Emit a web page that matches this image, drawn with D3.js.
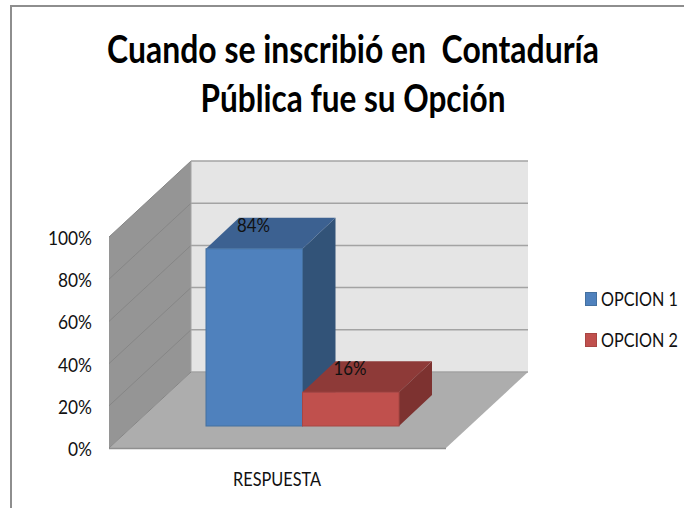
<!DOCTYPE html>
<html>
<head>
<meta charset="utf-8">
<script src="https://cdn.jsdelivr.net/npm/d3@7"></script>
<style>
html, body { margin: 0; padding: 0; background: #fff; }
text { font-family: Lato, "Open Sans", sans-serif; fill: #111; white-space: pre; }
</style>
</head>
<body>
<div id="vis"></div>
<script>
var titleLines = ["Cuando se inscribió en  Contaduría", "Pública fue su Opción"],
    category = "RESPUESTA",
    seriesNames = ["OPCION 1", "OPCION 2"],
    seriesValues = [84, 16],
    seriesLabels = ["84%", "16%"],
    yTicks = [0, 20, 40, 60, 80, 100];

var w = 684,
    h = 508,
    depthX = 82,      // shift from the front of the box to the back wall
    depthY = -76,
    barDepthX = 33,   // depth of the bars themselves
    barDepthY = -31,
    barInsetY = -22;

var svg = d3.select("#vis").append("svg")
    .attr("width", w)
    .attr("height", h)
    .style("display", "block");

// text in the picture is narrower than Lato, so squeeze each one to its width
function putText(str, px, py, size, width, anchor, weight) {
    var t = svg.append("text")
       .text(str)
       .attr("text-anchor", anchor)
       .attr("font-size", size)
       .attr("font-weight", weight || 400);
    var k = width / t.node().getComputedTextLength();
    t.attr("transform", "translate(" + px + "," + py + ") scale(" + k + ",1)");
    return t;
}

// border of the picture, cut off at the right and bottom
svg.append("path")
   .attr("d", "M11,508V6H684")
   .attr("fill", "none")
   .attr("stroke", "#8e8e8e")
   .attr("stroke-width", 2);

titleLines.forEach(function(t, i) {
    putText(t, 353, 63 + i * 49, 39, i == 0 ? 492 : 305, "middle", 700)
       .style("fill", "#000");
});

var y = d3.scaleLinear().domain([0, 100]).range([448, 237]),
    xBox = d3.scaleBand().domain([category]).range([109, 446]),
    x = d3.scaleBand().domain(seriesNames).range([206, 399]);

var poly = function(pts) { return d3.line()(pts) + "Z"; };

var x0 = xBox(category),
    x1 = x0 + xBox.bandwidth();

// back wall
svg.append("path")
   .attr("d", poly([[x0 + depthX, y(0) + depthY], [x1 + depthX, y(0) + depthY], [x1 + depthX, y(100) + depthY], [x0 + depthX, y(100) + depthY]]))
   .attr("fill", "#e5e5e5");

// side wall
svg.append("path")
   .attr("d", poly([[x0, y(0)], [x0 + depthX, y(0) + depthY], [x0 + depthX, y(100) + depthY], [x0, y(100)]]))
   .attr("fill", "#959595");

// floor
svg.append("path")
   .attr("d", poly([[x0, y(0)], [x1, y(0)], [x1 + depthX, y(0) + depthY], [x0 + depthX, y(0) + depthY]]))
   .attr("fill", "#adadad");

svg.append("line")
   .attr("x1", x0).attr("x2", x1)
   .attr("y1", y(0) + 0.5).attr("y2", y(0) + 0.5)
   .attr("stroke", "#8f8f8f")
   .attr("stroke-width", 1.5);

// gridlines on the back wall
svg.selectAll(".gridBack")
   .data(yTicks)
   .enter()
   .append("line")
   .attr("class", "gridBack")
   .attr("x1", x0 + depthX)
   .attr("y1", function(d) { return y(d) + depthY; })
   .attr("x2", x1 + depthX)
   .attr("y2", function(d) { return y(d) + depthY; })
   .attr("stroke", "#a3a3a3")
   .attr("stroke-width", 1.5);

// gridlines on the side wall
svg.selectAll(".gridSide")
   .data(yTicks)
   .enter()
   .append("line")
   .attr("class", "gridSide")
   .attr("x1", x0)
   .attr("y1", function(d) { return y(d); })
   .attr("x2", x0 + depthX)
   .attr("y2", function(d) { return y(d) + depthY; })
   .attr("stroke", "#868686")
   .attr("stroke-width", 1);

// back edge of the side wall
svg.append("line")
   .attr("x1", x0 + depthX).attr("x2", x0 + depthX)
   .attr("y1", y(0) + depthY).attr("y2", y(100) + depthY)
   .attr("stroke", "#a3a3a3");

// y tick labels
yTicks.forEach(function(d) {
    putText(d + "%", 92, y(d) + 8, 20, 14 + 10 * String(d).length, "end");
});

// bars
var barColors = [
    { front: "#4f81bd", top: "#3c6191", side: "#325378", line: "#44709f" },
    { front: "#c0504d", top: "#8e3a38", side: "#7d3230", line: "#a84643" }
];
var base = y(0) + barInsetY;

seriesNames.forEach(function(name, i) {
    var bx0 = x(name),
        bx1 = bx0 + x.bandwidth(),
        top = y(seriesValues[i]) + barInsetY,
        c = barColors[i];

    svg.append("path")
       .attr("d", poly([[bx1, base], [bx1 + barDepthX, base + barDepthY], [bx1 + barDepthX, top + barDepthY], [bx1, top]]))
       .attr("fill", c.side);
    svg.append("path")
       .attr("d", poly([[bx0, top], [bx1, top], [bx1 + barDepthX, top + barDepthY], [bx0 + barDepthX, top + barDepthY]]))
       .attr("fill", c.top);
    svg.append("rect")
       .attr("x", bx0)
       .attr("y", top)
       .attr("width", x.bandwidth())
       .attr("height", base - top)
       .attr("fill", c.front)
       .attr("stroke", c.line);

    putText(seriesLabels[i], bx0 + 47.5, top - 17, 20, 33, "middle");
});

// category label
putText(category, 277, 486, 20, 88, "middle");

// legend
seriesNames.forEach(function(name, i) {
    var ly = 292 + i * 41;
    svg.append("rect")
       .attr("x", 585.5)
       .attr("y", ly + 0.5)
       .attr("width", 11)
       .attr("height", 13)
       .attr("fill", barColors[i].front)
       .attr("stroke", barColors[i].line);
    putText(name, 601, ly + 13.5, 19, 77, "start");
});
</script>
</body>
</html>
